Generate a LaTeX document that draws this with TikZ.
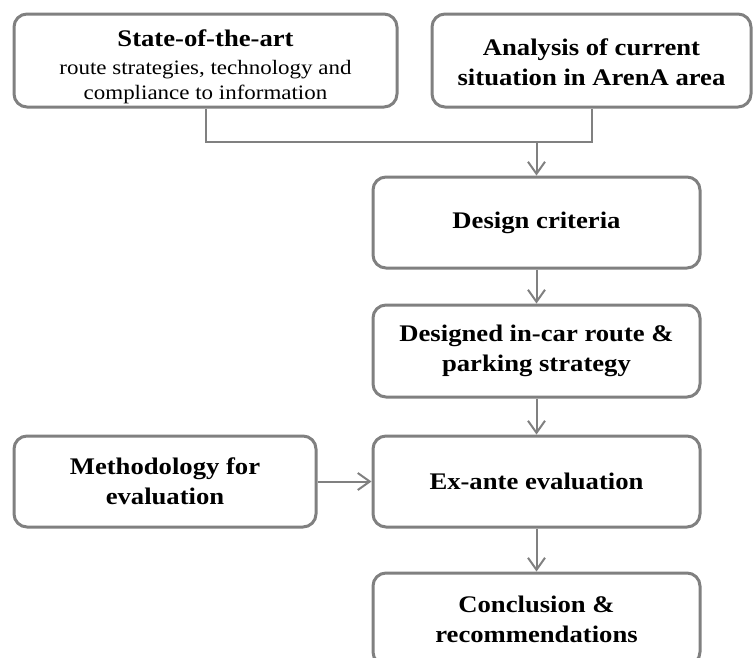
\documentclass[tikz,border=0pt]{standalone}
\usepackage{fontspec}
\setmainfont{Liberation Serif}[FakeStretch=1.12]
\usetikzlibrary{arrows.meta}

\definecolor{framegray}{RGB}{128,128,128}
\definecolor{linkgray}{RGB}{128,128,128}

\tikzset{
  stepbox/.style={draw=framegray, line width=3pt, rounded corners=13pt,
    fill=white, align=center, inner sep=0pt, text=black,
    font=\fontsize{23.8}{30}\selectfont\bfseries},
  link/.style={draw=linkgray, line width=2pt},
  flow/.style={link, -{Straight Barb[length=12pt,width=17pt,line width=2pt]}},
}

\begin{document}
\begin{tikzpicture}[x=1pt, y=-1pt]
  \useasboundingbox (0,0) rectangle (753,657);

  % top row
  \node[stepbox, minimum width=383pt, minimum height=93pt] (soa) at (205.5,60.5)
    {\rule{0pt}{30pt}State-of-the-art\\[-2pt]
     \fontsize{20.5}{24}\selectfont\mdseries route strategies, technology and\\[-5pt]
     \fontsize{20.5}{24}\selectfont\mdseries compliance to information};
  \node[stepbox, minimum width=319pt, minimum height=93pt] (ana) at (591.5,60.5)
    {\rule{0pt}{20pt}Analysis of current\\situation in ArenA area};

  % main column
  \node[stepbox, minimum width=327pt, minimum height=91pt] (crit) at (536.5,222.5)
    {Design criteria};
  \node[stepbox, minimum width=327pt, minimum height=92pt] (strat) at (536.5,351)
    {Designed in-car route \&\\parking strategy};
  \node[stepbox, minimum width=327pt, minimum height=91pt] (exante) at (536.5,481.5)
    {Ex-ante evaluation};
  \node[stepbox, minimum width=302pt, minimum height=91pt] (method) at (165,481.5)
    {Methodology for\\evaluation};
  \node[stepbox, minimum width=327pt, minimum height=92pt] (concl) at (536.5,619)
    {Conclusion \&\\recommendations};

  % connectors
  \coordinate (join) at (536.5,142);
  \draw[link] (soa.south) |- (join) -| (ana.south);
  \draw[flow] (join) -- (crit.north);
  \draw[flow] (crit) -- (strat);
  \draw[flow] (strat) -- (exante);
  \draw[flow] (method) -- (exante);
  \draw[flow] (exante) -- (concl);
\end{tikzpicture}
\end{document}
